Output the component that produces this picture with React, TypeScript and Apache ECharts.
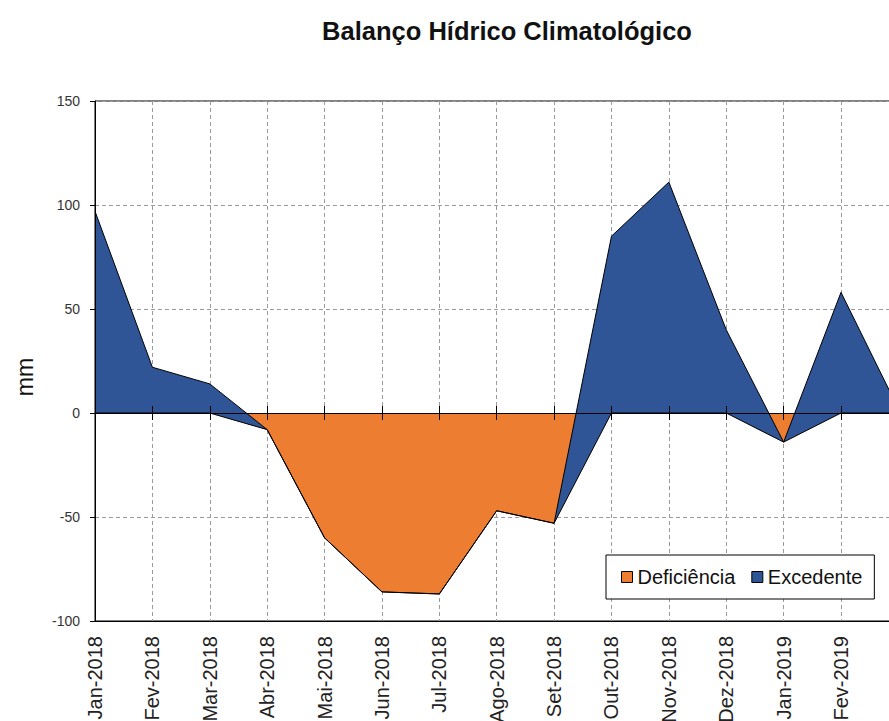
import React, { useEffect, useRef } from "react";
import * as echarts from "echarts";

const months = [
  "Jan-2018", "Fev-2018", "Mar-2018", "Abr-2018", "Mai-2018", "Jun-2018", "Jul-2018",
  "Ago-2018", "Set-2018", "Out-2018", "Nov-2018", "Dez-2018", "Jan-2019", "Fev-2019", "Mar-2019",
];
const deficiencia = [0, 0, 0, -8, -60, -86, -87, -47, -53, 0, 0, 0, -14, 0, 0];
const excedente = [97, 22, 14, 0, 0, 0, 0, 0, 0, 85, 111, 40, 0, 58, 2];
const yTicks = { min: -100, max: 150, interval: 50 };

const ORANGE = "#ED7D31";
const BLUE = "#2F5597";
const FONT = "'Liberation Sans', Arial, sans-serif";
const GRID = { left: 95, top: 101, right: 21.6, bottom: 119 };
const dashed = { color: "#9a9a9a", width: 1, type: [4, 3] as any };

export default function App() {
  const ref = useRef<HTMLDivElement>(null);
  useEffect(() => {
    if (!ref.current) return;
    const chart = echarts.init(ref.current, undefined, { renderer: "svg" });
    chart.setOption({
      animation: false,
      backgroundColor: "#fff",
      textStyle: { fontFamily: FONT },
      graphic: [
        {
          type: "text",
          x: 507,
          y: 31,
          style: {
            text: "Balanço Hídrico Climatológico",
            fontFamily: FONT,
            fontWeight: "bold",
            fontSize: 25.5,
            fill: "#111",
            textAlign: "center",
            textVerticalAlign: "middle",
          },
        },
        {
          type: "text",
          x: 25,
          y: 377,
          rotation: Math.PI / 2,
          style: {
            text: "mm",
            fontFamily: FONT,
            fontSize: 23,
            fill: "#111",
            textAlign: "center",
            textVerticalAlign: "middle",
          },
        },
      ],
      legend: {
        left: 606,
        top: 555,
        orient: "horizontal",
        backgroundColor: "#fff",
        borderColor: "#000",
        borderWidth: 1,
        borderRadius: 0,
        padding: [12, 12, 12, 15],
        itemGap: 16,
        itemWidth: 11,
        itemHeight: 11,
        textStyle: { fontFamily: FONT, fontSize: 20, color: "#111" },
        data: [
          { name: "Deficiência", icon: "rect", itemStyle: { color: ORANGE, borderColor: "#000", borderWidth: 1 } },
          { name: "Excedente", icon: "rect", itemStyle: { color: BLUE, borderColor: "#000", borderWidth: 1 } },
        ],
      },
      grid: [
        { ...GRID, show: true, borderColor: "#000", borderWidth: 1, backgroundColor: "transparent", containLabel: false },
        { ...GRID, show: false, containLabel: false },
      ],
      xAxis: [
        {
          type: "category",
          gridIndex: 0,
          data: months,
          boundaryGap: false,
          position: "bottom",
          axisLine: { show: true, onZero: false, lineStyle: { color: "#000", width: 1 } },
          axisTick: { show: false },
          axisLabel: {
            rotate: 90,
            fontSize: 20,
            color: "#222",
            margin: 15,
            fontFamily: FONT,
            interval: 0,
            formatter: (v: string, i: number) => (i === months.length - 1 ? "" : v),
          },
          splitLine: { show: true, lineStyle: dashed },
        },
        {
          type: "category",
          gridIndex: 0,
          data: months,
          boundaryGap: false,
          position: "top",
          z: 10,
          axisLine: { show: true, onZero: true, lineStyle: { color: "#000", width: 1 } },
          axisTick: { show: true, length: 7, inside: false, interval: 0, lineStyle: { color: "#000" } },
          axisLabel: { show: false },
          splitLine: { show: false },
        },
        {
          type: "category",
          gridIndex: 1,
          data: months,
          boundaryGap: false,
          position: "bottom",
          z: 10,
          axisLine: { show: true, onZero: true, lineStyle: { color: "#000", width: 1 } },
          axisTick: { show: true, length: 7, inside: false, interval: 0, lineStyle: { color: "#000" } },
          axisLabel: { show: false },
          splitLine: { show: false },
        },
      ],
      yAxis: [
        {
          type: "value",
          gridIndex: 0,
          ...yTicks,
          z: 10,
          axisLine: { show: true, lineStyle: { color: "#000", width: 1 } },
          axisTick: { show: true, length: 5, lineStyle: { color: "#000" } },
          axisLabel: { fontSize: 14, color: "#333", margin: 15, fontFamily: FONT },
          splitLine: { show: false },
        },
        {
          type: "value",
          gridIndex: 1,
          ...yTicks,
          z: 0,
          axisLine: { show: false },
          axisTick: { show: false },
          axisLabel: { show: false },
          splitLine: { show: true, lineStyle: dashed },
        },
      ],
      series: [
        {
          name: "Deficiência",
          type: "line",
          xAxisIndex: 0,
          yAxisIndex: 0,
          stack: "bh",
          stackStrategy: "all",
          data: deficiencia,
          symbol: "none",
          color: ORANGE,
          itemStyle: { color: ORANGE },
          lineStyle: { color: "#000", width: 1 },
          areaStyle: { color: ORANGE, opacity: 1 },
        },
        {
          name: "Excedente",
          type: "line",
          xAxisIndex: 0,
          yAxisIndex: 0,
          stack: "bh",
          stackStrategy: "all",
          data: excedente,
          symbol: "none",
          color: BLUE,
          itemStyle: { color: BLUE },
          lineStyle: { color: "#000", width: 1 },
          areaStyle: { color: BLUE, opacity: 1 },
        },
      ],
    });
    return () => chart.dispose();
  }, []);
  return (
    <div style={{ position: "fixed", left: 0, top: 0, width: 889, height: 721, overflow: "hidden", background: "#fff" }}>
      <div ref={ref} style={{ width: 920, height: 740 }} />
    </div>
  );
}
